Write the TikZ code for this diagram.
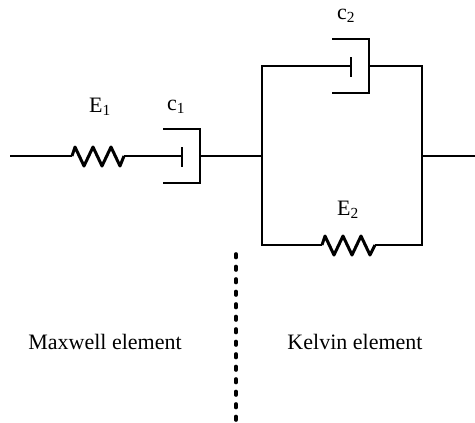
\documentclass[tikz,border=0pt]{standalone}
\usepackage{fontspec}
\setmainfont{Liberation Serif}
\usetikzlibrary{arrows,positioning,calc}

\tikzset{
  wire/.style={line width=1.7pt, line join=miter},
  spring/.style={line width=3pt, line join=round, to path={-- ++(3,-9) -- ++(9,19) -- ++(9,-19) -- ++(9,19) -- ++(9,-19) -- ++(9,19) -- (\tikztotarget)}},
  lbl/.style={font=\fontsize{22}{26}\selectfont, inner sep=0pt}
}

\begin{document}
\begin{tikzpicture}[x=1pt, y=-1pt]
    \useasboundingbox (0,0) rectangle (475,423);

    \coordinate (in) at (10,156);
    \coordinate (s1a) at (72,156);
    \coordinate (s1b) at (124,156);
    \coordinate (p1) at (182,156);
    \coordinate (p1t) at (182,147);
    \coordinate (p1b) at (182,167);
    \coordinate (d1t) at (163,129);
    \coordinate (d1tr) at (200,129);
    \coordinate (d1br) at (200,183);
    \coordinate (d1b) at (163,183);
    \coordinate (d1o) at (200,156);
    \coordinate (jl) at (262,156);
    \coordinate (jr) at (422,156);
    \coordinate (out) at (475,156);

    \coordinate (tl) at (262,66);
    \coordinate (tr) at (422,66);
    \coordinate (bl) at (262,245);
    \coordinate (br) at (422,245);
    \coordinate (p2) at (351,66);
    \coordinate (p2t) at (351,57);
    \coordinate (p2b) at (351,77);
    \coordinate (d2t) at (332,39);
    \coordinate (d2tr) at (369,39);
    \coordinate (d2br) at (369,93);
    \coordinate (d2b) at (332,93);
    \coordinate (d2o) at (369,66);
    \coordinate (s2a) at (322,245);
    \coordinate (s2b) at (375,245);

    \coordinate (sep1) at (236,254);
    \coordinate (sep2) at (236,422);

    \node[lbl] (e1) at (100,107) {E\textsubscript{1}};
    \node[lbl] (c1) at (176,107) {c\textsubscript{1}};
    \node[lbl] (c2) at (346,16) {c\textsubscript{2}};
    \node[lbl] (e2) at (348,210) {E\textsubscript{2}};
    \node[lbl] (maxw) at (105,342) {Maxwell element};
    \node[lbl] (kelv) at (355,342) {Kelvin element};

    % maxwell part
    \draw[wire] (in) -- (s1a);
    \draw[spring] (s1a) to (s1b);
    \draw[wire] (s1b) -- (p1);
    \draw[wire] (p1t) -- (p1b);
    \draw[wire] (d1t) -- (d1tr) -- (d1br) -- (d1b);
    \draw[wire] (d1o) -- (jl);

    % kelvin part
    \draw[wire] (p2) -- (tl) -- (bl) -- (s2a);
    \draw[line width=2.6pt] (p2t) -- (p2b);
    \draw[wire] (d2t) -- (d2tr) -- (d2br) -- (d2b);
    \draw[wire] (d2o) -- (tr) -- (br) -- (s2b);
    \draw[spring] (s2a) to (s2b);
    \draw[wire] (jr) -- (out);

    \draw[line width=3.6pt, line cap=round, dash pattern=on 3.5pt off 9pt] (sep1) -- (sep2);
\end{tikzpicture}
\end{document}
